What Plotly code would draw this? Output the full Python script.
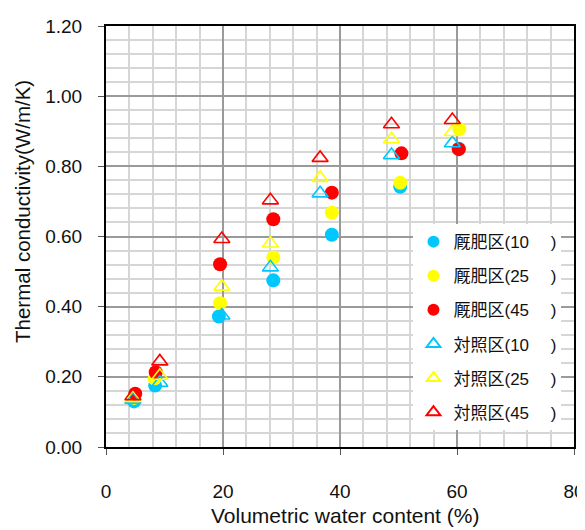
import plotly.graph_objects as go

# --- data ---
x_ticks = [0, 20, 40, 60, 80]
y_ticks = [0.0, 0.2, 0.4, 0.6, 0.8, 1.0, 1.2]

# 厩肥区 (circles)
kyu_x_10 = [4.8, 8.4, 19.3, 28.6, 38.6, 50.3, 60.3]
kyu_y_10 = [0.13, 0.175, 0.372, 0.475, 0.605, 0.742, 0.85]
kyu_x_25 = [4.8, 8.3, 19.5, 28.6, 38.6, 50.3, 60.4]
kyu_y_25 = [0.14, 0.195, 0.41, 0.54, 0.668, 0.753, 0.906]
kyu_x_45 = [5.0, 8.5, 19.5, 28.6, 38.6, 50.5, 60.3]
kyu_y_45 = [0.152, 0.213, 0.521, 0.649, 0.725, 0.837, 0.849]

# 対照区 (triangles)
tai_x = [4.6, 9.2, 19.8, 28.1, 36.6, 48.8, 59.2]
tai_y_10 = [0.135, 0.183, 0.375, 0.512, 0.723, 0.832, 0.866]
tai_y_25 = [0.14, 0.203, 0.457, 0.58, 0.767, 0.877, 0.898]
tai_y_45 = [0.145, 0.244, 0.593, 0.703, 0.824, 0.92, 0.932]

names = ["厩肥区(10\u3000 )", "厩肥区(25\u3000 )", "厩肥区(45\u3000 )",
         "対照区(10\u3000 )", "対照区(25\u3000 )", "対照区(45\u3000 )"]

CYAN, YEL, RED = "#00C8FF", "#FFFF00", "#FF0000"

fig = go.Figure()
series = [
    (kyu_x_10, kyu_y_10, CYAN, "circle"),
    (kyu_x_25, kyu_y_25, YEL, "circle"),
    (kyu_x_45, kyu_y_45, RED, "circle"),
    (tai_x, tai_y_10, CYAN, "triangle-up-open"),
    (tai_x, tai_y_25, YEL, "triangle-up-open"),
    (tai_x, tai_y_45, RED, "triangle-up-open"),
]
for i, (xs, ys, col, sym) in enumerate(series):
    if sym == "circle":
        marker = dict(symbol=sym, size=14, color=col, line=dict(width=0))
    else:
        marker = dict(symbol=sym, size=14, color=col, line=dict(width=1.6, color=col))
    fig.add_trace(go.Scatter(x=xs, y=ys, mode="markers", name=names[i],
                             marker=marker, legendgroup=f"g{i}"))

FONT = "Liberation Sans, Arial, Noto Sans CJK JP, sans-serif"

axis_common = dict(
    showline=True, linecolor="#000000", linewidth=2, mirror=True,
    ticks="outside", ticklen=6, tickcolor="#555555", tickwidth=1,
    showgrid=True, gridcolor="#9a9a9a", gridwidth=1.5,
    zeroline=False, automargin=False,
    tickfont=dict(family=FONT, size=19, color="#111111"),
)

fig.update_xaxes(
    range=[0, 80], tickvals=x_ticks, ticktext=[str(v) for v in x_ticks],
    minor=dict(dtick=4, showgrid=True, gridcolor="#d6d6d6", gridwidth=1.5, ticks=""),
    ticklabelstandoff=20,
    **axis_common,
)
fig.update_yaxes(
    range=[0, 1.2], tickvals=y_ticks, ticktext=[f"{v:.2f}" for v in y_ticks],
    minor=dict(dtick=0.04, showgrid=True, gridcolor="#d6d6d6", gridwidth=1.5, ticks=""),
    ticklabelstandoff=12,
    **axis_common,
)

fig.add_annotation(
    text="Thermal conductivity(W/m/K)", xref="paper", yref="paper",
    x=-0.1784, y=0.5595, xanchor="center", yanchor="middle", textangle=-90,
    showarrow=False, font=dict(family=FONT, size=20.5, color="#111111"),
)
fig.add_annotation(
    text="Volumetric water content (%)", xref="paper", yref="paper",
    x=0.5107, y=-0.162, xanchor="center", yanchor="middle",
    showarrow=False, font=dict(family=FONT, size=21, color="#111111"),
)

# page body adds an 8px offset; figure is sized to fill the rest of the window
fig.update_layout(
    width=577, height=522,
    margin=dict(l=98, r=11, t=18, b=82.5, autoexpand=False),
    paper_bgcolor="white", plot_bgcolor="white",
    showlegend=True,
    legend=dict(
        x=0.657, y=0.5295, xanchor="left", yanchor="top",
        bgcolor="white", borderwidth=0,
        font=dict(family=FONT, size=17, color="#111111"),
        tracegroupgap=9, entrywidth=125, itemsizing="constant",
    ),
)

fig.write_html("out.html")
